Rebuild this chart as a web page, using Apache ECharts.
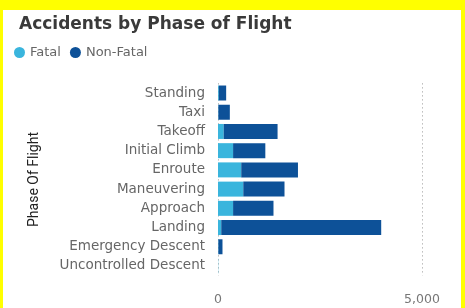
<!DOCTYPE html>
<html><head><meta charset="utf-8">
<script src="https://cdn.jsdelivr.net/npm/echarts@6/dist/echarts.min.js"></script>
<style>html,body{margin:0;padding:0;background:#ffff00;}#wrap{position:absolute;left:3px;top:10px;width:458px;height:298px;background:#fff;}#c{position:absolute;left:0;top:0;width:465px;height:308px;}</style>
</head><body><div id="wrap"></div><div id="c"></div>
<script>
const categories = ["Standing","Taxi","Takeoff","Initial Climb","Enroute","Maneuvering","Approach","Landing","Emergency Descent","Uncontrolled Descent"];
const fatal    = [20, 10, 140, 370, 570, 620, 370, 80, 10, 5];
const nonFatal = [180, 280, 1320, 790, 1390, 1010, 990, 3920, 100, 0];
const xTicks = [0, 5000];

const chart = echarts.init(document.getElementById('c'));
chart.setOption({
  backgroundColor: 'transparent',
  animation: false,
  title: { text: 'Accidents by Phase of Flight', left: 14, top: 11,
    textStyle: { fontFamily: 'DejaVu Sans', fontSize: 17, fontWeight: 600, color: '#3a3a3a' } },
  legend: { left: 9, top: 41, icon: 'circle', itemWidth: 11, itemHeight: 11, itemGap: 9,
    textStyle: { fontFamily: 'DejaVu Sans', fontSize: 13, color: '#666' },
    data: ['Fatal', 'Non-Fatal'] },
  grid: { left: 218, right: 43, top: 83.4, bottom: 32.4, containLabel: false },
  xAxis: { type: 'value', min: xTicks[0], max: xTicks[xTicks.length-1], interval: 5000,
    axisLine: { show: false }, axisTick: { show: false },
    splitLine: { show: true, lineStyle: { type: [1, 3], color: '#999', width: 1 } },
    axisLabel: { margin: 18, fontFamily: 'DejaVu Sans', fontSize: 12.5, color: '#777',
      formatter: v => v.toLocaleString('en-US') } },
  yAxis: { type: 'category', inverse: true, data: categories,
    name: 'Phase Of Flight', nameLocation: 'middle', nameGap: 177, nameRotate: 90,
    nameTextStyle: { fontFamily: 'Liberation Sans Narrow, Roboto', fontSize: 14, color: '#222' },
    axisLine: { show: false }, axisTick: { show: false },
    axisLabel: { margin: 13, fontFamily: 'DejaVu Sans', fontSize: 13.5, color: '#666' } },
  series: [
    { name: 'Fatal', type: 'bar', stack: 's', data: fatal, barCategoryGap: '22%',
      itemStyle: { color: '#3ab5dd' } },
    { name: 'Non-Fatal', type: 'bar', stack: 's', data: nonFatal, barCategoryGap: '22%',
      itemStyle: { color: '#0d5198' } }
  ]
});
</script></body></html>
